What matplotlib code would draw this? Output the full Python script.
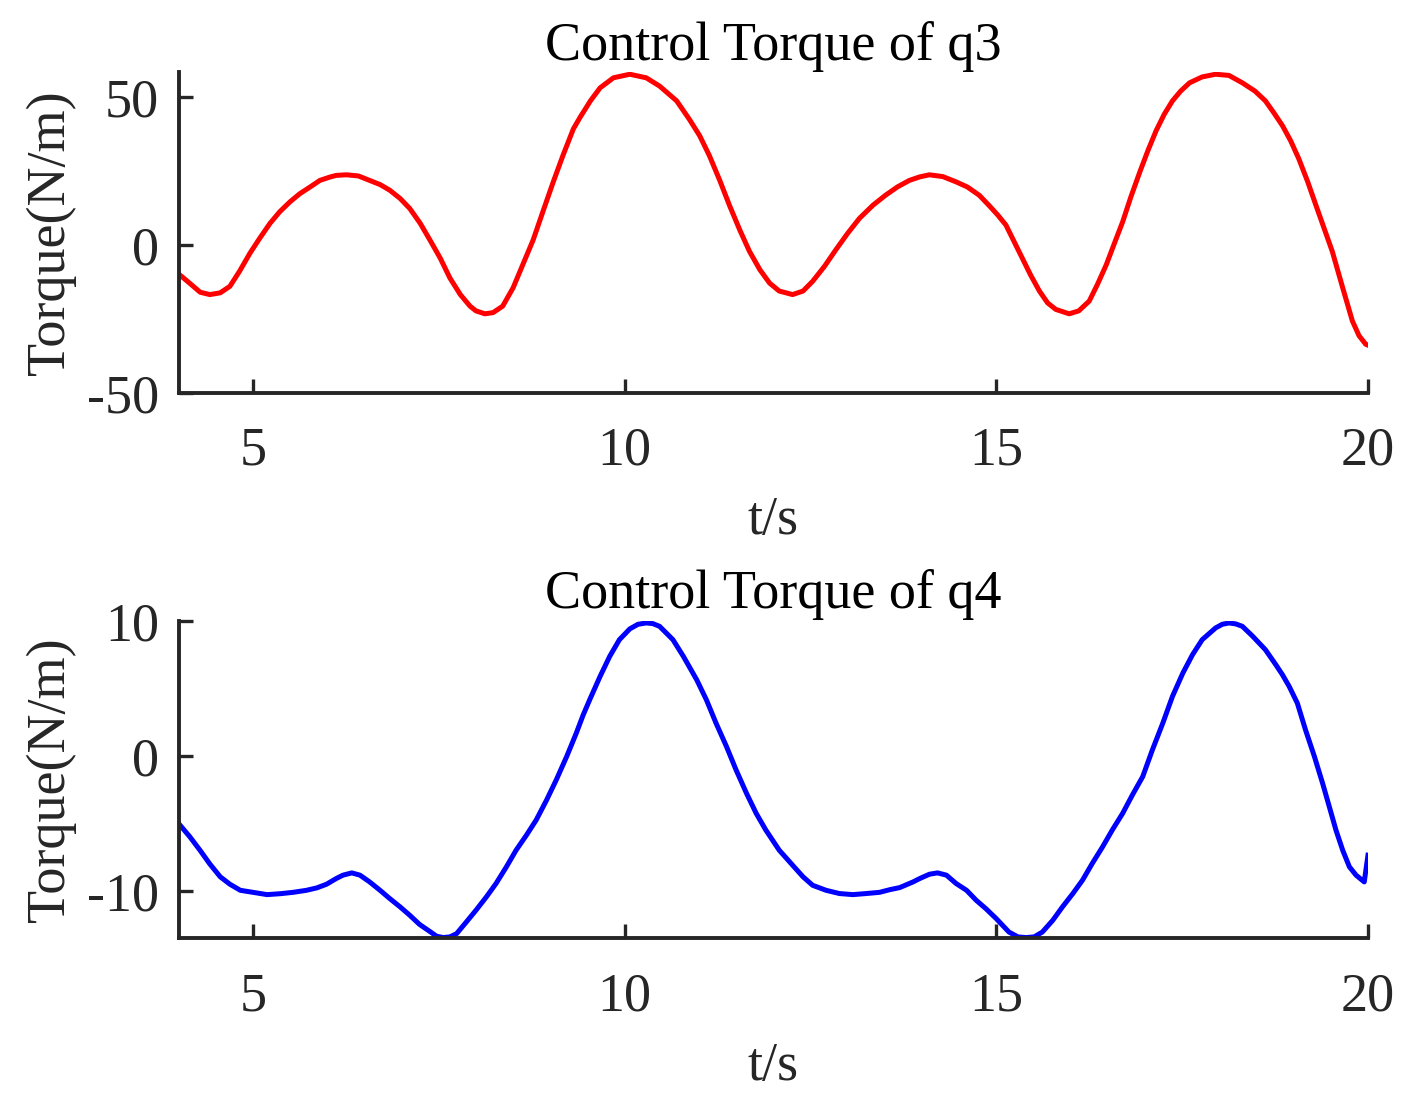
import matplotlib
matplotlib.use("Agg")
import matplotlib.pyplot as plt

# 关节 q3 的控制力矩
t_q3 = [4.00, 4.17, 4.29, 4.42, 4.56, 4.69, 4.82, 4.96, 5.09, 5.23, 5.36, 5.50,
        5.63, 5.77, 5.90, 6.03, 6.12, 6.26, 6.42, 6.57, 6.71, 6.84, 6.98, 7.11,
        7.25, 7.38, 7.52, 7.65, 7.79, 7.92, 8.00, 8.12, 8.23, 8.36, 8.50, 8.63,
        8.77, 8.90, 9.04, 9.17, 9.31, 9.40, 9.54, 9.67, 9.85, 10.07, 10.29, 10.47,
        10.70, 10.87, 11.01, 11.14, 11.28, 11.41, 11.55, 11.68, 11.82, 11.95, 12.08, 12.26,
        12.40, 12.53, 12.69, 12.84, 13.00, 13.16, 13.34, 13.51, 13.67, 13.83, 13.97, 14.10,
        14.28, 14.46, 14.61, 14.77, 14.90, 15.02, 15.13, 15.24, 15.35, 15.46, 15.58, 15.69,
        15.80, 15.98, 16.11, 16.25, 16.36, 16.48, 16.59, 16.70, 16.81, 16.93, 17.04, 17.15,
        17.26, 17.37, 17.48, 17.60, 17.77, 17.95, 18.13, 18.31, 18.48, 18.62, 18.73, 18.85,
        18.96, 19.07, 19.19, 19.30, 19.41, 19.52, 19.66, 19.79, 19.88, 19.97, 20.00]
tau_q3 = [-9.7, -13.3, -15.9, -16.7, -16.1, -13.9, -8.8, -2.7, 2.3, 7.4, 11.3, 14.7,
          17.4, 19.7, 21.9, 23.0, 23.6, 23.8, 23.4, 21.9, 20.5, 18.6, 15.8, 12.4,
          7.4, 1.8, -4.4, -11.1, -16.7, -20.6, -22.2, -23.2, -22.8, -20.6, -14.4, -6.6,
          1.8, 11.3, 21.4, 30.3, 39.3, 43.2, 48.8, 53.2, 56.6, 57.8, 56.6, 53.8,
          48.8, 42.6, 37.0, 30.3, 21.9, 13.5, 5.1, -2.1, -8.3, -12.8, -15.5, -16.7,
          -15.5, -12.2, -7.1, -1.6, 4.0, 9.1, 13.5, 16.9, 19.7, 21.9, 23.1, 23.8,
          23.2, 21.4, 19.7, 16.9, 13.5, 10.2, 6.8, 1.2, -4.4, -10.0, -15.5, -19.5,
          -21.7, -23.2, -22.2, -18.9, -13.3, -6.6, 0.7, 7.9, 16.3, 24.7, 32.0, 38.7,
          44.3, 48.8, 52.1, 54.9, 56.9, 57.8, 57.4, 54.9, 52.1, 48.8, 44.9, 40.4,
          35.3, 29.2, 21.4, 13.5, 5.7, -2.1, -14.4, -25.6, -30.6, -33.5, -33.8]

# 关节 q4 的控制力矩
t_q4 = [4.00, 4.15, 4.29, 4.42, 4.56, 4.69, 4.83, 5.00, 5.19, 5.37, 5.54, 5.72,
        5.86, 5.99, 6.12, 6.21, 6.33, 6.44, 6.57, 6.71, 6.84, 6.98, 7.11, 7.24,
        7.38, 7.47, 7.56, 7.65, 7.74, 7.87, 8.00, 8.14, 8.27, 8.41, 8.54, 8.68,
        8.81, 8.95, 9.08, 9.22, 9.35, 9.44, 9.53, 9.67, 9.80, 9.93, 10.07, 10.18,
        10.29, 10.38, 10.47, 10.65, 10.79, 10.97, 11.10, 11.23, 11.37, 11.50, 11.64, 11.77,
        11.90, 12.08, 12.26, 12.40, 12.53, 12.71, 12.89, 13.07, 13.25, 13.43, 13.57, 13.70,
        13.88, 13.97, 14.10, 14.21, 14.33, 14.46, 14.60, 14.73, 14.86, 15.00, 15.17, 15.29,
        15.40, 15.51, 15.62, 15.76, 15.89, 16.03, 16.16, 16.29, 16.43, 16.56, 16.70, 16.83,
        16.97, 17.10, 17.24, 17.37, 17.51, 17.64, 17.77, 17.95, 18.04, 18.13, 18.22, 18.31,
        18.45, 18.62, 18.76, 18.85, 18.94, 19.05, 19.16, 19.28, 19.39, 19.48, 19.57, 19.66,
        19.75, 19.84, 19.95, 20.00]
tau_q4 = [-5.0, -5.98, -7.0, -8.0, -8.95, -9.5, -9.95, -10.1, -10.27, -10.2, -10.1, -9.95,
          -9.77, -9.5, -9.08, -8.83, -8.66, -8.83, -9.33, -9.95, -10.56, -11.18, -11.8, -12.47,
          -13.0, -13.35, -13.45, -13.4, -13.16, -12.3, -11.43, -10.44, -9.45, -8.21, -6.98, -5.86,
          -4.75, -3.27, -1.78, -0.05, 1.69, 3.0, 4.16, 5.89, 7.38, 8.61, 9.41, 9.75,
          9.85, 9.8, 9.6, 8.61, 7.38, 5.64, 4.16, 2.43, 0.7, -1.04, -2.77, -4.25,
          -5.49, -6.98, -8.09, -8.95, -9.58, -9.95, -10.19, -10.27, -10.19, -10.1, -9.9, -9.75,
          -9.33, -9.08, -8.76, -8.66, -8.83, -9.45, -9.95, -10.69, -11.31, -12.05, -13.04, -13.4,
          -13.45, -13.4, -13.04, -12.17, -11.18, -10.19, -9.2, -7.97, -6.73, -5.49, -4.25, -2.9,
          -1.53, 0.45, 2.43, 4.41, 6.14, 7.5, 8.61, 9.48, 9.75, 9.85, 9.78, 9.6,
          8.86, 7.87, 6.76, 6.01, 5.15, 3.91, 1.93, -0.05, -2.03, -3.76, -5.5, -6.98,
          -8.21, -8.83, -9.33, -7.35]

plt.rcParams['font.family'] = ['Liberation Serif', 'DejaVu Serif']
plt.rcParams['font.size'] = 39
plt.rcParams['axes.unicode_minus'] = False

axis_color = '#262626'

fig = plt.figure(figsize=(14.22, 10.98), dpi=100)
ax1 = fig.add_axes([0.1256, 0.642, 0.8364, 0.292])
ax2 = fig.add_axes([0.1256, 0.1455, 0.8364, 0.289])

panels = [
    (ax1, t_q3, tau_q3, 'r', 'Control Torque of q3', (-50, 58.4), [-50, 0, 50], -0.318),
    (ax2, t_q4, tau_q4, 'b', 'Control Torque of q4', (-13.5, 10), [-10, 0, 10], -0.326),
]

for ax, t, tau, c, title, ylim, yticks, xlab_y in panels:
    ax.plot(t, tau, color=c, linewidth=3.6, solid_joinstyle='round')
    ax.set_xlim(4, 20)
    ax.set_ylim(*ylim)
    ax.set_xticks([5, 10, 15, 20])
    ax.set_yticks(yticks)
    ax.set_title(title, pad=9, color='black', fontsize=39)
    ax.set_xlabel('t/s', color=axis_color)
    ax.set_ylabel('Torque(N/m)', color=axis_color)
    ax.xaxis.set_label_coords(0.5, xlab_y)
    ax.yaxis.set_label_coords(-0.086, 0.5)

    # MATLAB 风格：只保留左边和下边
    ax.spines['top'].set_visible(False)
    ax.spines['right'].set_visible(False)
    for s in ['left', 'bottom']:
        ax.spines[s].set_linewidth(2.8)
        ax.spines[s].set_color(axis_color)
    ax.tick_params(axis='both', direction='in', length=10, width=2.4,
                   colors=axis_color, labelcolor=axis_color)
    ax.tick_params(axis='x', pad=24)
    ax.tick_params(axis='y', pad=14)

fig.savefig('out.png', dpi=100)
